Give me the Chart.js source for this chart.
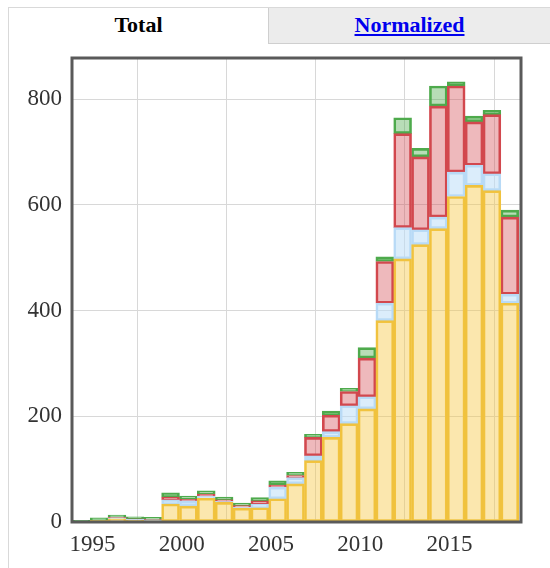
<!DOCTYPE html>
<html>
<head>
<meta charset="utf-8">
<script src="https://cdn.jsdelivr.net/npm/chart.js@4.4.1/dist/chart.umd.min.js"></script>
<style>
  body { margin: 0; background: #fff; width: 550px; height: 568px; overflow: hidden; font-family: "Liberation Serif", serif; }
  #panel { position: absolute; left: 8px; top: 7px; right: 0; bottom: 0; border-left: 1px solid #d9d9d9; border-top: 1px solid #d9d9d9; }
  #tabs { display: flex; height: 36px; }
  .tab { text-align: center; font-weight: bold; font-size: 22px; line-height: 34px; }
  .tab.active { width: 259px; color: #000; }
  .tab.other { flex: 1; background: #ececec; border-left: 1px solid #cfcfcf; border-bottom: 1px solid #cfcfcf; }
  .tab.other a { color: #0000ee; text-decoration: underline; }
  #chart { position: absolute; left: 0; top: 44px; }
</style>
</head>
<body>
<div id="panel">
  <div id="tabs">
    <div class="tab active">Total</div>
    <div class="tab other"><a href="#">Normalized</a></div>
  </div>
</div>
<canvas id="chart" width="550" height="524"></canvas>
<script>
// one bar per year, stacked bottom to top
const years = [1994, 1995, 1996, 1997, 1998, 1999, 2000, 2001, 2002, 2003, 2004, 2005, 2006,
               2007, 2008, 2009, 2010, 2011, 2012, 2013, 2014, 2015, 2016, 2017, 2018];
const yellowVals = [0, 3, 6, 3, 2, 34, 30, 45, 37, 26, 27, 44, 72, 116, 160, 186, 214, 381, 498, 525, 555, 616, 637, 627, 414];
const blueVals   = [0, 0, 2, 2, 2, 8, 10, 4, 2, 2, 7, 22, 12, 9, 11, 34, 23, 33, 59, 28, 22, 46, 38, 32, 17];
const redVals    = [0, 0, 1, 1, 1, 5, 3, 4, 3, 3, 6, 4, 4, 35, 31, 27, 73, 79, 178, 138, 210, 163, 82, 112, 146];
const greenVals  = [3, 5, 4, 4, 4, 8, 6, 6, 5, 5, 6, 8, 6, 6, 8, 6, 20, 9, 30, 16, 38, 8, 11, 8, 13];
const yTicks = [0, 200, 400, 600, 800];
const xTicks = [1995, 2000, 2005, 2010, 2015];

// bars sit slightly after the year line
const toPoints = vals => vals.map((v, i) => ({ x: years[i] + 0.37, y: v }));

function series(vals, border, fill) {
    return {
        data: toPoints(vals),
        backgroundColor: fill,
        borderColor: border,
        borderWidth: 2,
        borderSkipped: false,
        barPercentage: 1,
        categoryPercentage: 1
    };
}

// thick frame around the plot
const framePlugin = {
    id: 'frame',
    afterDatasetsDraw(chart) {
        const a = chart.chartArea;
        const ctx = chart.ctx;
        ctx.save();
        ctx.strokeStyle = '#5a5a5a';
        ctx.lineWidth = 3;
        ctx.strokeRect(a.left, a.top, a.right - a.left, a.bottom - a.top);
        ctx.restore();
    }
};

const tickFont = { family: '"Liberation Serif", serif', size: 23 };

new Chart(document.getElementById('chart').getContext('2d'), {
    type: 'bar',
    data: {
        datasets: [
            series(yellowVals, 'rgb(240, 194, 62)', 'rgba(245, 200, 70, 0.44)'),
            series(blueVals, 'rgb(184, 218, 246)', 'rgba(190, 222, 248, 0.55)'),
            series(redVals, 'rgb(210, 72, 78)', 'rgba(210, 72, 78, 0.38)'),
            series(greenVals, 'rgb(78, 170, 76)', 'rgba(78, 170, 76, 0.4)')
        ]
    },
    options: {
        responsive: false,
        animation: false,
        layout: { padding: { left: 0, top: 14, right: 29, bottom: 0 } },
        plugins: { legend: { display: false }, tooltip: { enabled: false } },
        scales: {
            x: {
                type: 'linear',
                stacked: true,
                offset: false,
                min: 1993.85,
                max: 2019,
                afterBuildTicks: s => { s.ticks = xTicks.map(v => ({ value: v })); },
                afterFit: s => { s.height = 46; s.paddingLeft = 0; s.paddingRight = 0; },
                ticks: { font: tickFont, color: '#333', padding: 9, maxRotation: 0, callback: v => String(v) },
                grid: { color: '#d8d8d8', drawTicks: false },
                border: { display: false }
            },
            y: {
                stacked: true,
                min: 0,
                max: 878,
                afterBuildTicks: s => { s.ticks = yTicks.map(v => ({ value: v })); },
                afterFit: s => { s.width = 72; s.paddingTop = 0; s.paddingBottom = 0; },
                ticks: { font: tickFont, color: '#333', padding: 10, callback: v => String(v) },
                grid: { color: '#d8d8d8', drawTicks: false },
                border: { display: false }
            }
        }
    },
    plugins: [framePlugin]
});
</script>
</body>
</html>
